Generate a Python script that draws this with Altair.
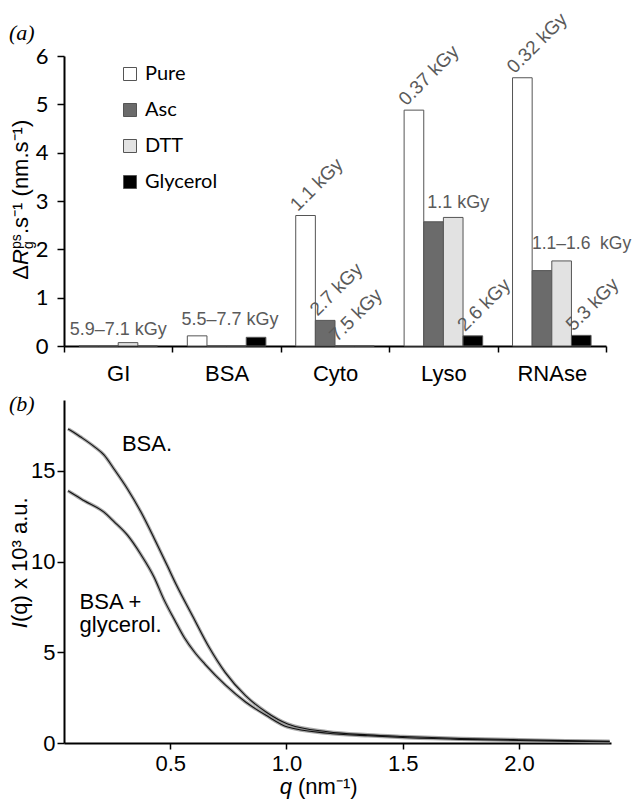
import altair as alt
import pandas as pd

# ---------------- panel (a) data ----------------
categories = ["GI", "BSA", "Cyto", "Lyso", "RNAse"]
series = ["Pure", "Asc", "DTT", "Glycerol"]
pure = [0.0, 0.21, 2.70, 4.88, 5.55]
asc = [0.0, 0.0, 0.53, 2.57, 1.56]
dtt = [0.07, 0.0, 0.0, 2.66, 1.76]
glycerol = [0.0, 0.18, 0.0, 0.21, 0.22]
bar_colors = ["#ffffff", "#6b6b6b", "#e2e2e2", "#000000"]

rot_label_cat = ["Cyto", "Cyto", "Cyto", "Lyso", "Lyso", "RNAse", "RNAse"]
rot_label_series = ["Pure", "Asc", "DTT", "Pure", "Glycerol", "Pure", "Glycerol"]
rot_label_text = ["1.1 kGy", "2.7 kGy", "7.5 kGy", "0.37 kGy", "2.6 kGy", "0.32 kGy", "5.3 kGy"]

flat_label_cat = ["GI", "BSA", "Lyso", "RNAse"]
flat_label_series = ["Asc", "Asc", "DTT", "Asc"]
flat_label_text = ["5.9\u20137.1 kGy", "5.5\u20137.7 kGy", "1.1 kGy", "1.1\u20131.6\u00a0 kGy"]
flat_label_value = [0.22, 0.44, 2.86, 2.0]
# styling of the flat labels (horizontal shift, alignment, size)
flat_label_dx = [9.8, 13.2, 5.0, -10.0]
flat_label_align = ["center", "center", "center", "left"]
flat_label_size = [18, 18, 18, 17.5]

# ---------------- panel (b) data ----------------
q_bsa = [0.06, 0.072, 0.115, 0.173, 0.215, 0.258, 0.316, 0.373, 0.43, 0.488, 0.526,
         0.596, 0.666, 0.737, 0.824, 0.912, 1.005, 1.176, 1.35, 1.5, 1.75, 2.0, 2.2, 2.39]
i_bsa = [17.3, 17.22, 16.86, 16.33, 15.87, 15.1, 14.0, 12.75, 11.3, 9.75, 8.72,
         7.0, 5.3, 3.88, 2.61, 1.71, 1.05, 0.62, 0.45, 0.36, 0.25, 0.18, 0.13, 0.09]
q_gly = [0.06, 0.072, 0.13, 0.215, 0.258, 0.316, 0.373, 0.43, 0.473, 0.52, 0.561,
         0.605, 0.649, 0.737, 0.824, 0.912, 1.005, 1.176, 1.35, 1.5, 1.75, 2.0, 2.2, 2.39]
i_gly = [13.9, 13.8, 13.35, 12.72, 12.2, 11.45, 10.4, 9.15, 7.9, 6.75, 5.8,
         5.0, 4.35, 3.2, 2.26, 1.53, 0.88, 0.54, 0.4, 0.3, 0.2, 0.14, 0.1, 0.07]

curve_names = ["BSA", "BSA + glycerol"]
note_text = ["BSA.", "BSA +", "glycerol."]
note_q = [0.292, 0.11, 0.11]
note_i = [16.1, 7.37, 6.13]

# ---------------- build tables ----------------
rows = []
for s, vals in zip(series, [pure, asc, dtt, glycerol]):
    for c, v in zip(categories, vals):
        rows.append({"category": c, "series": s, "value": v})
bars_df = pd.DataFrame(rows)

rot_df = pd.DataFrame({"category": rot_label_cat, "series": rot_label_series,
                       "text": rot_label_text}).merge(bars_df, on=["category", "series"])

curve_df = pd.concat([
    pd.DataFrame({"q": q_bsa, "I": i_bsa, "sample": curve_names[0]}),
    pd.DataFrame({"q": q_gly, "I": i_gly, "sample": curve_names[1]}),
])
note_df = pd.DataFrame({"q": note_q, "I": note_i, "text": note_text})

ARIAL = "Liberation Sans"
W1, H1 = 542, 290
W2, H2 = 547, 343
GREY = "#5a5a5a"

one = pd.DataFrame({"k": [0]})

x_top = alt.X("category:N", sort=categories, title=None,
              scale=alt.Scale(paddingInner=0, paddingOuter=0),
              axis=alt.Axis(labelAngle=0, tickBand="extent", labelFont=ARIAL, labelFontSize=22,
                            labelColor="black", domainColor="black", domainWidth=2,
                            tickColor="black", tickWidth=1.5, tickSize=6, labelPadding=11,
                            title=None))
xoff = alt.XOffset("series:N", sort=series, scale=alt.Scale(paddingInner=0, paddingOuter=0.76))
y_top = alt.Y("value:Q", title=None, scale=alt.Scale(domain=[0, 6], nice=False),
              axis=alt.Axis(values=[0, 1, 2, 3, 4, 5, 6], format="d", labelFont="Lato",
                            labelFontSize=22, labelColor="black", domainColor="black",
                            domainWidth=2, tickColor="black", tickWidth=1.5, tickSize=7,
                            labelPadding=9, title=None))

bars = alt.Chart(bars_df).mark_bar(stroke="#555555", strokeWidth=1).encode(
    x=x_top, xOffset=xoff, y=y_top,
    color=alt.Color("series:N", sort=series,
                    scale=alt.Scale(domain=series, range=bar_colors),
                    legend=alt.Legend(title=None, orient="none", legendX=56, legendY=8,
                                      symbolType="square", symbolSize=169,
                                      symbolStrokeColor="#555555", symbolStrokeWidth=1,
                                      symbolOpacity=1, labelFont="Lato", labelFontSize=20,
                                      labelColor="black", rowPadding=16, labelOffset=5,
                                      padding=0)),
)

rot_labels = alt.Chart(rot_df).mark_text(angle=315, align="left", baseline="alphabetic",
                                          dx=-3, dy=-8, font=ARIAL, fontSize=19,
                                          color=GREY).encode(
    x=x_top, xOffset=xoff, y=y_top, text="text:N",
)

flat_layers = []
for c, s, t, v, dx, al, fs in zip(flat_label_cat, flat_label_series, flat_label_text,
                                  flat_label_value, flat_label_dx, flat_label_align,
                                  flat_label_size):
    d = pd.DataFrame({"category": [c], "series": [s], "value": [v], "text": [t]})
    flat_layers.append(
        alt.Chart(d).mark_text(align=al, baseline="alphabetic", dx=dx, font=ARIAL,
                               fontSize=fs, color=GREY).encode(
            x=x_top, xOffset=xoff, y=y_top, text="text:N",
        )
    )


def txt(text, x, y, size=22, style="normal", align="left", angle=0, font=ARIAL):
    kw = dict(text=text, fontSize=size, font=font, align=align, baseline="alphabetic",
              color="black", fontStyle=style)
    if angle:
        kw["angle"] = angle
    return alt.Chart(one).mark_text(**kw).encode(x=alt.value(x), y=alt.value(y))


ytitle_a = [
    txt("\u0394", -36, 209, align="right", angle=270),
    txt("R", -36, 193, style="italic", align="right", angle=270),
    txt("g", -31, 193, size=14, align="left", angle=270),
    txt("ps", -43, 193, size=14, align="left", angle=270),
    txt(".s\u207b\u00b9 (nm.s\u207b\u00b9)", -36, 178, align="left", angle=270),
]
panel_a = txt("(a)", -55, -16, size=22, style="italic", font="Liberation Serif")

top = alt.layer(bars, rot_labels, *flat_layers, *ytitle_a, panel_a).properties(
    width=W1, height=H1)

# ---------------- panel (b) ----------------
x_bot = alt.X("q:Q", title=None, scale=alt.Scale(domain=[0.043, 2.396], nice=False, zero=False),
              axis=alt.Axis(values=[0.5, 1.0, 1.5, 2.0], format=".1f", labelFont=ARIAL,
                            labelFontSize=22, labelColor="black", domainColor="black",
                            domainWidth=2, tickColor="black", tickWidth=1.5, tickSize=6,
                            labelPadding=4, title=None))
y_bot = alt.Y("I:Q", title=None, scale=alt.Scale(domain=[0, 18.9], nice=False),
              axis=alt.Axis(values=[0, 5, 10, 15], format="d", labelFont=ARIAL,
                            labelFontSize=22, labelColor="black", domainColor="black",
                            domainWidth=2, tickColor="black", tickWidth=1.5, tickSize=7,
                            labelPadding=2, title=None))

halo = alt.Chart(curve_df).mark_line(color="#8c8c8c", strokeWidth=3.5, opacity=0.75,
                                     interpolate="monotone").encode(
    x=x_bot, y=y_bot, detail="sample:N")
line = alt.Chart(curve_df).mark_line(color="#111111", strokeWidth=1.1,
                                     interpolate="monotone").encode(
    x=x_bot, y=y_bot, detail="sample:N")
notes = alt.Chart(note_df).mark_text(align="left", baseline="alphabetic", font=ARIAL,
                                     fontSize=22, color="black").encode(
    x=x_bot, y=y_bot, text="text:N")

ytitle_b = [
    txt("I", -37, 222, style="italic", align="right", angle=270),
    txt("(q) x 10\u00b3 a.u.", -37, 222, align="left", angle=270),
]
xtitle_b = [
    txt("q", 228, H2 + 51, style="italic", align="right"),
    txt("(nm\u207b\u00b9)", 234, H2 + 51, align="left"),
]
panel_b = txt("(b)", -55, 11, size=22, style="italic", font="Liberation Serif")

bottom = alt.layer(halo, line, notes, *ytitle_b, *xtitle_b, panel_b).properties(
    width=W2, height=H2)

chart = alt.vconcat(top, bottom, spacing=54, bounds="flush").properties(
    padding={"top": 1, "left": 0, "right": 0, "bottom": 0}, background="white"
).configure_view(stroke="transparent").configure_axis(grid=False)

chart.save("out.html", embed_options={"renderer": "svg", "actions": False})
